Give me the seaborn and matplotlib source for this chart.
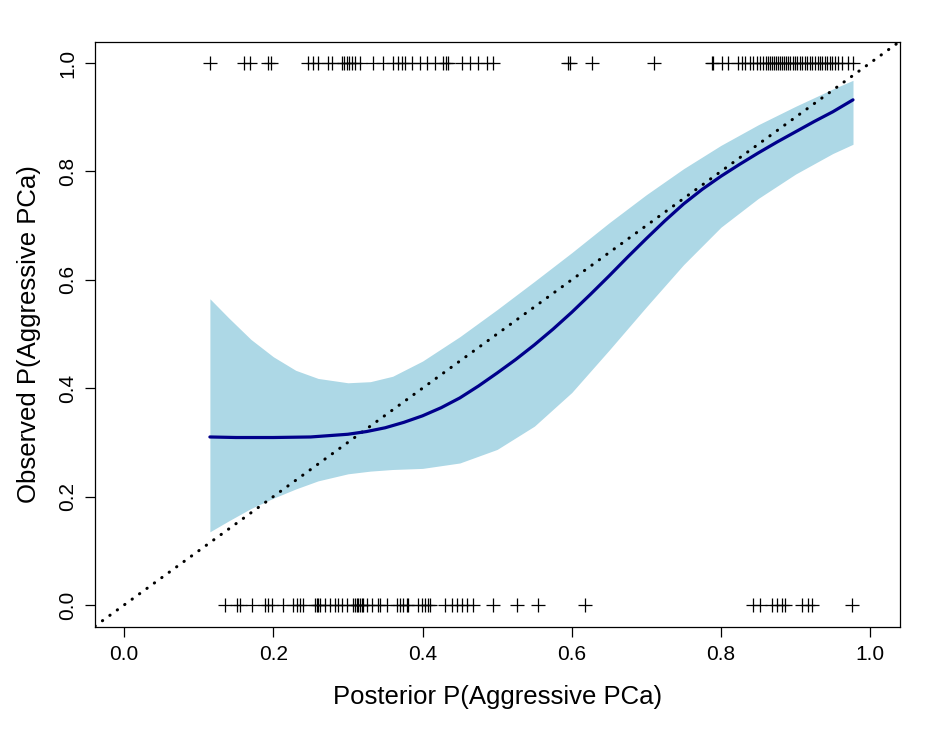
import numpy as np
import pandas as pd
import matplotlib
matplotlib.use("Agg")
import matplotlib.pyplot as plt
import seaborn as sns

# ---- data ----
top_px = [210, 244, 250, 268, 271, 308, 313, 318, 328, 332, 342, 344, 347, 349, 352, 355, 360,
          373, 383, 393, 398, 402, 405, 412, 420, 427, 435, 443, 446, 448, 462, 470, 478, 487, 493,
          568, 570, 592, 654, 712, 713, 722, 728, 738, 742, 745, 750, 753, 757, 760, 763, 766, 768,
          770, 772, 774, 776, 778, 780, 782, 784, 786, 788, 790, 793, 795, 797, 800, 802, 805, 807,
          810, 812, 815, 818, 820, 822, 825, 827, 830, 832, 835, 838, 842, 848, 853]
bottom_px = [225, 237, 240, 252, 265, 268, 272, 283, 293, 297, 300, 303, 315, 317, 318, 320, 325,
             330, 335, 338, 342, 347, 353, 355, 357, 358, 360, 362, 363, 367, 372, 378, 380, 387,
             397, 400, 403, 407, 408, 418, 422, 425, 428, 430, 445, 452, 457, 462, 467, 473, 493,
             517, 538, 585, 753, 760, 772, 777, 782, 785, 802, 808, 812, 852]
# posterior probabilities of the observed cases (positions)
posterior_pos = [round((p - 124) / 746, 4) for p in top_px]
posterior_neg = [round((p - 124) / 746, 4) for p in bottom_px]

curve_x = [0.115, 0.15, 0.2, 0.25, 0.3, 0.325, 0.35, 0.375, 0.4, 0.425, 0.45, 0.475, 0.5,
           0.525, 0.55, 0.575, 0.6, 0.625, 0.65, 0.675, 0.7, 0.725, 0.75, 0.775, 0.8, 0.825,
           0.85, 0.875, 0.9, 0.925, 0.95, 0.977]
curve_y = [0.310, 0.309, 0.309, 0.310, 0.315, 0.320, 0.327, 0.337, 0.349, 0.364, 0.382, 0.404,
           0.428, 0.453, 0.480, 0.509, 0.540, 0.573, 0.607, 0.642, 0.676, 0.709, 0.740, 0.767,
           0.791, 0.813, 0.834, 0.854, 0.873, 0.892, 0.910, 0.932]

band_x = [0.115, 0.14, 0.17, 0.2, 0.23, 0.26, 0.3, 0.33, 0.36, 0.4, 0.45, 0.5, 0.55, 0.6,
          0.65, 0.7, 0.75, 0.8, 0.85, 0.9, 0.95, 0.977]
upper_y = [0.565, 0.530, 0.490, 0.458, 0.433, 0.418, 0.410, 0.412, 0.422, 0.450, 0.495, 0.545,
           0.597, 0.650, 0.705, 0.757, 0.805, 0.848, 0.886, 0.920, 0.952, 0.968]
lower_y = [0.135, 0.155, 0.178, 0.197, 0.214, 0.229, 0.242, 0.247, 0.250, 0.252, 0.262, 0.287,
           0.330, 0.392, 0.470, 0.550, 0.628, 0.697, 0.750, 0.795, 0.833, 0.850]

x_ticks = [0.0, 0.2, 0.4, 0.6, 0.8, 1.0]
y_ticks = [0.0, 0.2, 0.4, 0.6, 0.8, 1.0]
x_label = "Posterior P(Aggressive PCa)"
y_label = "Observed P(Aggressive PCa)"

# ---- plot ----
sns.set_theme(style="ticks")
plt.rcParams["font.family"] = ["Liberation Sans", "DejaVu Sans"]

fig = plt.figure(figsize=(9.41, 7.32), dpi=100)
ax = fig.add_axes([95 / 941, 1 - 627 / 732, (900 - 95) / 941, (627 - 42) / 732])

ax.fill_between(band_x, lower_y, upper_y, color="#ADD8E6", linewidth=0, zorder=1)

curve_df = pd.DataFrame({"x": curve_x, "y": curve_y})
sns.lineplot(data=curve_df, x="x", y="y", color="#00008B", linewidth=2.3, ax=ax,
             sort=True, zorder=3)

ax.axline((0, 0), slope=1, color="black", linestyle=(0, (0.1, 2.9)), linewidth=2.2,
          dash_capstyle="round", zorder=2)

pts = pd.DataFrame({
    "x": posterior_pos + posterior_neg,
    "y": [1.0] * len(posterior_pos) + [0.0] * len(posterior_neg),
})
sns.scatterplot(data=pts, x="x", y="y", marker="+", s=110, color="black", linewidth=0.9,
                ax=ax, zorder=4)

ax.set_xlim(-0.039, 1.040)
ax.set_ylim(-0.0406, 1.0387)
ax.set_xticks(x_ticks)
ax.set_yticks(y_ticks)
ax.set_xticklabels([f"{v:.1f}" for v in x_ticks], fontsize=15)
ax.set_yticklabels([f"{v:.1f}" for v in y_ticks], fontsize=15, rotation=90, va="center")
ax.tick_params(axis="both", direction="out", length=7, width=0.9, color="black",
               labelcolor="black", pad=6)
ax.set_xlabel(x_label, fontsize=18.5, labelpad=15, color="black")
ax.set_ylabel(y_label, fontsize=18.5, labelpad=12, color="black")
for s in ax.spines.values():
    s.set_color("black")
    s.set_linewidth(0.9)

fig.savefig("out.png", dpi=100, facecolor="white")
